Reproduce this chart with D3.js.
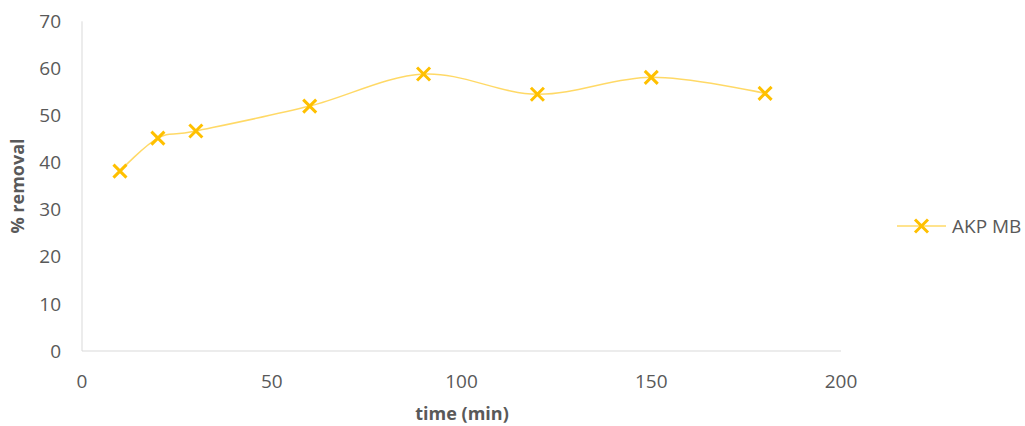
<!DOCTYPE html>
<html>
<head>
<meta charset="utf-8">
<script src="https://cdn.jsdelivr.net/npm/d3@7"></script>
<style>
  html, body { margin: 0; padding: 0; background: #fff; }
  svg { display: block; font-family: "Open Sans", "Liberation Sans", sans-serif; }
</style>
</head>
<body>
<svg id="chart" width="1025" height="426"></svg>
<script>
// Removal over time for AKP MB
const times = [10, 20, 30, 60, 90, 120, 150, 180];
const removal = [38.2, 45.2, 46.7, 52.0, 58.8, 54.5, 58.1, 54.7];
const xTicks = [0, 50, 100, 150, 200];
const yTicks = [0, 10, 20, 30, 40, 50, 60, 70];
const seriesName = "AKP MB";

const svg = d3.select("#chart");
const x = d3.scaleLinear().domain([0, 200]).range([82, 841]);
const y = d3.scaleLinear().domain([0, 70]).range([351, 21.3]);

const axisColor = "#d9d9d9";
const textColor = "#595959";
const lineColor = "#FFC000";

// axis lines
svg.append("line").attr("x1", x(0)).attr("x2", x(0)).attr("y1", y(70)).attr("y2", y(0))
  .attr("stroke", axisColor).attr("stroke-width", 1);
svg.append("line").attr("x1", x(0)).attr("x2", x(200)).attr("y1", y(0)).attr("y2", y(0))
  .attr("stroke", axisColor).attr("stroke-width", 1);

// y tick labels
svg.append("g").selectAll("text").data(yTicks).join("text")
  .attr("x", 61).attr("y", d => y(d)).attr("dy", "0.35em")
  .attr("text-anchor", "end").attr("fill", textColor).attr("font-size", 19)
  .text(d => d);

// x tick labels
svg.append("g").selectAll("text").data(xTicks).join("text")
  .attr("x", d => x(d)).attr("y", 381).attr("dy", "0.35em")
  .attr("text-anchor", "middle").attr("fill", textColor).attr("font-size", 19)
  .text(d => d);

// axis titles
svg.append("text").attr("x", 462).attr("y", 414).attr("dy", "0.35em")
  .attr("text-anchor", "middle").attr("fill", textColor)
  .attr("font-size", 18).attr("font-weight", "bold").text("time (min)");
svg.append("text").attr("transform", "translate(18,186) rotate(-90)").attr("dy", "0.35em")
  .attr("text-anchor", "middle").attr("fill", textColor)
  .attr("font-size", 18).attr("font-weight", "bold").text("% removal");

// smoothed series line
const pts = times.map((t, i) => [t, removal[i]]);
const line = d3.line().x(d => x(d[0])).y(d => y(d[1])).curve(d3.curveCatmullRom.alpha(0));
svg.append("path").attr("d", line(pts)).attr("fill", "none")
  .attr("stroke", lineColor).attr("stroke-opacity", 0.6).attr("stroke-width", 1.5);

// cross markers
function cross(g, cx, cy, r) {
  g.append("path")
    .attr("d", `M${cx - r},${cy - r}L${cx + r},${cy + r}M${cx - r},${cy + r}L${cx + r},${cy - r}`)
    .attr("stroke", lineColor).attr("stroke-width", 3).attr("fill", "none");
}
const mk = svg.append("g");
pts.forEach(d => cross(mk, x(d[0]), y(d[1]), 6.5));

// legend
const lg = svg.append("g");
lg.append("line").attr("x1", 897).attr("x2", 946).attr("y1", 226).attr("y2", 226)
  .attr("stroke", lineColor).attr("stroke-opacity", 0.6).attr("stroke-width", 1.5);
cross(lg, 921.5, 226, 6.5);
lg.append("text").attr("x", 952).attr("y", 226).attr("dy", "0.35em")
  .attr("fill", textColor).attr("font-size", 19).text(seriesName);
</script>
</body>
</html>
